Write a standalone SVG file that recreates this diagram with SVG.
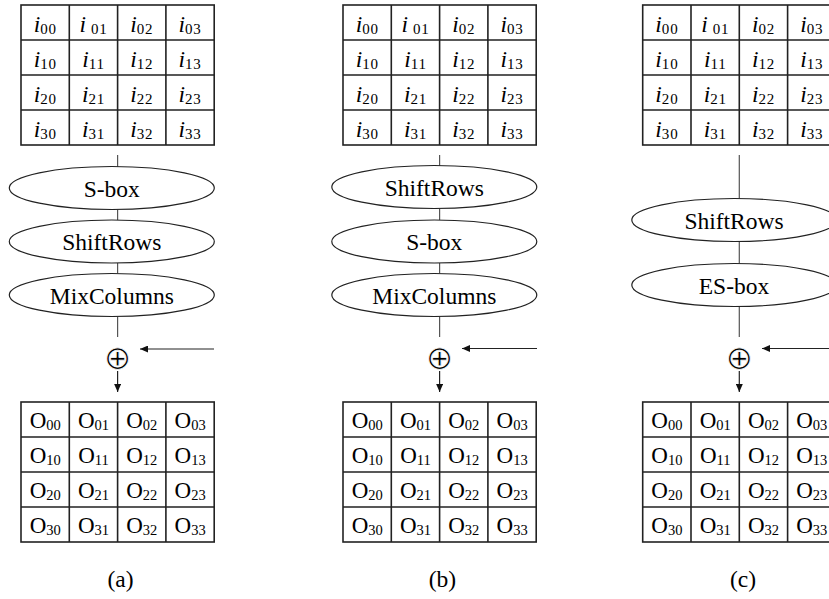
<svg xmlns="http://www.w3.org/2000/svg" width="829" height="599" viewBox="0 0 829 599">
<style>
.gr{fill:#fff;stroke:#222;stroke-width:1.6}
.gl{stroke:#222;stroke-width:1.6}
.e{fill:#fff;stroke:#222;stroke-width:1.2}
.ln{stroke:#555;stroke-width:1.2;fill:none}
.ar{stroke:#222;stroke-width:1.2;fill:none}
text{font-family:"Liberation Serif","Times New Roman",serif;fill:#000;text-anchor:middle}
.iv{font-style:italic;font-size:23.5px}
.ov{font-size:23px}
.si{font-size:15px;letter-spacing:0.8px}
.so{font-size:14.5px}
.et{font-size:23.5px}
.lb{font-size:23.5px}
.x{font-family:"DejaVu Sans",sans-serif;font-size:33px;fill:#000;stroke:#fff;stroke-width:0.8px;paint-order:fill}
</style>
<defs>
<marker id="ah" markerUnits="userSpaceOnUse" markerWidth="8" markerHeight="7" refX="8" refY="3.5" orient="auto"><path d="M0,0 L8,3.5 L0,7 z" fill="#111"/></marker>
</defs>
<g id="connectors">
<line class="ln" x1="117.6" y1="155" x2="117.6" y2="167"/>
<line class="ln" x1="117.6" y1="209.5" x2="117.6" y2="220"/>
<line class="ln" x1="117.6" y1="263" x2="117.6" y2="273.5"/>
<line class="ln" x1="117.6" y1="316.5" x2="117.6" y2="337"/>
<line class="ar" x1="214" y1="349" x2="140" y2="349" marker-end="url(#ah)"/>
<line class="ar" x1="117.6" y1="371" x2="117.6" y2="392" marker-end="url(#ah)"/>
<line class="ln" x1="439.6" y1="155" x2="439.6" y2="166"/>
<line class="ln" x1="439.6" y1="208.5" x2="439.6" y2="220"/>
<line class="ln" x1="439.6" y1="263" x2="439.6" y2="273.5"/>
<line class="ln" x1="439.6" y1="316.5" x2="439.6" y2="337"/>
<line class="ar" x1="537" y1="348.5" x2="462" y2="348.5" marker-end="url(#ah)"/>
<line class="ar" x1="439.6" y1="371" x2="439.6" y2="392" marker-end="url(#ah)"/>
<line class="ln" x1="739.3" y1="155" x2="739.3" y2="198.5"/>
<line class="ln" x1="739.3" y1="241.5" x2="739.3" y2="263.5"/>
<line class="ln" x1="739.3" y1="306.5" x2="739.3" y2="337"/>
<line class="ar" x1="830" y1="348.5" x2="762" y2="348.5" marker-end="url(#ah)"/>
<line class="ar" x1="739.3" y1="371" x2="739.3" y2="392" marker-end="url(#ah)"/>
</g>
<g id="a-input">
<rect class="gr" x="21" y="5" width="193.2" height="140"/>
<path class="gl" d="M69.3,5V145M117.6,5V145M165.9,5V145M21,40H214.2M21,75H214.2M21,110H214.2"/>
<text x="45.2" y="31.5"><tspan class="iv">i</tspan><tspan class="si" dy="2">00</tspan></text>
<text x="93.5" y="31.5"><tspan class="iv">i</tspan><tspan class="si" dx="5" dy="2">01</tspan></text>
<text x="141.8" y="31.5"><tspan class="iv">i</tspan><tspan class="si" dy="2">02</tspan></text>
<text x="190.1" y="31.5"><tspan class="iv">i</tspan><tspan class="si" dy="2">03</tspan></text>
<text x="45.2" y="66.5"><tspan class="iv">i</tspan><tspan class="si" dy="2">10</tspan></text>
<text x="93.5" y="66.5"><tspan class="iv">i</tspan><tspan class="si" dy="2">11</tspan></text>
<text x="141.8" y="66.5"><tspan class="iv">i</tspan><tspan class="si" dy="2">12</tspan></text>
<text x="190.1" y="66.5"><tspan class="iv">i</tspan><tspan class="si" dy="2">13</tspan></text>
<text x="45.2" y="101.5"><tspan class="iv">i</tspan><tspan class="si" dy="2">20</tspan></text>
<text x="93.5" y="101.5"><tspan class="iv">i</tspan><tspan class="si" dy="2">21</tspan></text>
<text x="141.8" y="101.5"><tspan class="iv">i</tspan><tspan class="si" dy="2">22</tspan></text>
<text x="190.1" y="101.5"><tspan class="iv">i</tspan><tspan class="si" dy="2">23</tspan></text>
<text x="45.2" y="136.5"><tspan class="iv">i</tspan><tspan class="si" dy="2">30</tspan></text>
<text x="93.5" y="136.5"><tspan class="iv">i</tspan><tspan class="si" dy="2">31</tspan></text>
<text x="141.8" y="136.5"><tspan class="iv">i</tspan><tspan class="si" dy="2">32</tspan></text>
<text x="190.1" y="136.5"><tspan class="iv">i</tspan><tspan class="si" dy="2">33</tspan></text>
</g>
<g id="a-sbox"><ellipse class="e" cx="111.8" cy="188" rx="102.5" ry="21.5"/><text class="et" x="111.8" y="196.5">S-box</text></g>
<g id="a-shiftrows"><ellipse class="e" cx="111.8" cy="241.5" rx="102.5" ry="21.5"/><text class="et" x="111.8" y="250">ShiftRows</text></g>
<g id="a-mixcolumns"><ellipse class="e" cx="111.8" cy="295" rx="102.5" ry="21.5"/><text class="et" x="111.8" y="303.5">MixColumns</text></g>
<g id="a-xor"><text class="x" x="117.6" y="368.5">⊕</text></g>
<g id="a-output">
<rect class="gr" x="21" y="402" width="193.2" height="140"/>
<path class="gl" d="M69.3,402V542M117.6,402V542M165.9,402V542M21,437H214.2M21,472H214.2M21,507H214.2"/>
<text x="45.2" y="427.5"><tspan class="ov">O</tspan><tspan class="so" dy="2">00</tspan></text>
<text x="93.5" y="427.5"><tspan class="ov">O</tspan><tspan class="so" dy="2">01</tspan></text>
<text x="141.8" y="427.5"><tspan class="ov">O</tspan><tspan class="so" dy="2">02</tspan></text>
<text x="190.1" y="427.5"><tspan class="ov">O</tspan><tspan class="so" dy="2">03</tspan></text>
<text x="45.2" y="462.5"><tspan class="ov">O</tspan><tspan class="so" dy="2">10</tspan></text>
<text x="93.5" y="462.5"><tspan class="ov">O</tspan><tspan class="so" dy="2">11</tspan></text>
<text x="141.8" y="462.5"><tspan class="ov">O</tspan><tspan class="so" dy="2">12</tspan></text>
<text x="190.1" y="462.5"><tspan class="ov">O</tspan><tspan class="so" dy="2">13</tspan></text>
<text x="45.2" y="497.5"><tspan class="ov">O</tspan><tspan class="so" dy="2">20</tspan></text>
<text x="93.5" y="497.5"><tspan class="ov">O</tspan><tspan class="so" dy="2">21</tspan></text>
<text x="141.8" y="497.5"><tspan class="ov">O</tspan><tspan class="so" dy="2">22</tspan></text>
<text x="190.1" y="497.5"><tspan class="ov">O</tspan><tspan class="so" dy="2">23</tspan></text>
<text x="45.2" y="532.5"><tspan class="ov">O</tspan><tspan class="so" dy="2">30</tspan></text>
<text x="93.5" y="532.5"><tspan class="ov">O</tspan><tspan class="so" dy="2">31</tspan></text>
<text x="141.8" y="532.5"><tspan class="ov">O</tspan><tspan class="so" dy="2">32</tspan></text>
<text x="190.1" y="532.5"><tspan class="ov">O</tspan><tspan class="so" dy="2">33</tspan></text>
</g>
<g id="a-label"><text class="lb" x="120.5" y="587">(a)</text></g>

<g id="b-input">
<rect class="gr" x="343" y="5" width="193.2" height="140"/>
<path class="gl" d="M391.3,5V145M439.6,5V145M487.9,5V145M343,40H536.2M343,75H536.2M343,110H536.2"/>
<text x="367.2" y="31.5"><tspan class="iv">i</tspan><tspan class="si" dy="2">00</tspan></text>
<text x="415.5" y="31.5"><tspan class="iv">i</tspan><tspan class="si" dx="5" dy="2">01</tspan></text>
<text x="463.8" y="31.5"><tspan class="iv">i</tspan><tspan class="si" dy="2">02</tspan></text>
<text x="512.1" y="31.5"><tspan class="iv">i</tspan><tspan class="si" dy="2">03</tspan></text>
<text x="367.2" y="66.5"><tspan class="iv">i</tspan><tspan class="si" dy="2">10</tspan></text>
<text x="415.5" y="66.5"><tspan class="iv">i</tspan><tspan class="si" dy="2">11</tspan></text>
<text x="463.8" y="66.5"><tspan class="iv">i</tspan><tspan class="si" dy="2">12</tspan></text>
<text x="512.1" y="66.5"><tspan class="iv">i</tspan><tspan class="si" dy="2">13</tspan></text>
<text x="367.2" y="101.5"><tspan class="iv">i</tspan><tspan class="si" dy="2">20</tspan></text>
<text x="415.5" y="101.5"><tspan class="iv">i</tspan><tspan class="si" dy="2">21</tspan></text>
<text x="463.8" y="101.5"><tspan class="iv">i</tspan><tspan class="si" dy="2">22</tspan></text>
<text x="512.1" y="101.5"><tspan class="iv">i</tspan><tspan class="si" dy="2">23</tspan></text>
<text x="367.2" y="136.5"><tspan class="iv">i</tspan><tspan class="si" dy="2">30</tspan></text>
<text x="415.5" y="136.5"><tspan class="iv">i</tspan><tspan class="si" dy="2">31</tspan></text>
<text x="463.8" y="136.5"><tspan class="iv">i</tspan><tspan class="si" dy="2">32</tspan></text>
<text x="512.1" y="136.5"><tspan class="iv">i</tspan><tspan class="si" dy="2">33</tspan></text>
</g>
<g id="b-shiftrows"><ellipse class="e" cx="434.3" cy="187" rx="102.5" ry="21.5"/><text class="et" x="434.3" y="195.5">ShiftRows</text></g>
<g id="b-sbox"><ellipse class="e" cx="434.3" cy="241.5" rx="102.5" ry="21.5"/><text class="et" x="434.3" y="250">S-box</text></g>
<g id="b-mixcolumns"><ellipse class="e" cx="434.3" cy="295" rx="102.5" ry="21.5"/><text class="et" x="434.3" y="303.5">MixColumns</text></g>
<g id="b-xor"><text class="x" x="439.6" y="368.5">⊕</text></g>
<g id="b-output">
<rect class="gr" x="343" y="402" width="193.2" height="140"/>
<path class="gl" d="M391.3,402V542M439.6,402V542M487.9,402V542M343,437H536.2M343,472H536.2M343,507H536.2"/>
<text x="367.2" y="427.5"><tspan class="ov">O</tspan><tspan class="so" dy="2">00</tspan></text>
<text x="415.5" y="427.5"><tspan class="ov">O</tspan><tspan class="so" dy="2">01</tspan></text>
<text x="463.8" y="427.5"><tspan class="ov">O</tspan><tspan class="so" dy="2">02</tspan></text>
<text x="512.1" y="427.5"><tspan class="ov">O</tspan><tspan class="so" dy="2">03</tspan></text>
<text x="367.2" y="462.5"><tspan class="ov">O</tspan><tspan class="so" dy="2">10</tspan></text>
<text x="415.5" y="462.5"><tspan class="ov">O</tspan><tspan class="so" dy="2">11</tspan></text>
<text x="463.8" y="462.5"><tspan class="ov">O</tspan><tspan class="so" dy="2">12</tspan></text>
<text x="512.1" y="462.5"><tspan class="ov">O</tspan><tspan class="so" dy="2">13</tspan></text>
<text x="367.2" y="497.5"><tspan class="ov">O</tspan><tspan class="so" dy="2">20</tspan></text>
<text x="415.5" y="497.5"><tspan class="ov">O</tspan><tspan class="so" dy="2">21</tspan></text>
<text x="463.8" y="497.5"><tspan class="ov">O</tspan><tspan class="so" dy="2">22</tspan></text>
<text x="512.1" y="497.5"><tspan class="ov">O</tspan><tspan class="so" dy="2">23</tspan></text>
<text x="367.2" y="532.5"><tspan class="ov">O</tspan><tspan class="so" dy="2">30</tspan></text>
<text x="415.5" y="532.5"><tspan class="ov">O</tspan><tspan class="so" dy="2">31</tspan></text>
<text x="463.8" y="532.5"><tspan class="ov">O</tspan><tspan class="so" dy="2">32</tspan></text>
<text x="512.1" y="532.5"><tspan class="ov">O</tspan><tspan class="so" dy="2">33</tspan></text>
</g>
<g id="b-label"><text class="lb" x="442.5" y="587">(b)</text></g>

<g id="c-input">
<rect class="gr" x="642.7" y="5" width="193.2" height="140"/>
<path class="gl" d="M691,5V145M739.3,5V145M787.6,5V145M642.7,40H835.9M642.7,75H835.9M642.7,110H835.9"/>
<text x="666.9" y="31.5"><tspan class="iv">i</tspan><tspan class="si" dy="2">00</tspan></text>
<text x="715.2" y="31.5"><tspan class="iv">i</tspan><tspan class="si" dx="5" dy="2">01</tspan></text>
<text x="763.5" y="31.5"><tspan class="iv">i</tspan><tspan class="si" dy="2">02</tspan></text>
<text x="811.8" y="31.5"><tspan class="iv">i</tspan><tspan class="si" dy="2">03</tspan></text>
<text x="666.9" y="66.5"><tspan class="iv">i</tspan><tspan class="si" dy="2">10</tspan></text>
<text x="715.2" y="66.5"><tspan class="iv">i</tspan><tspan class="si" dy="2">11</tspan></text>
<text x="763.5" y="66.5"><tspan class="iv">i</tspan><tspan class="si" dy="2">12</tspan></text>
<text x="811.8" y="66.5"><tspan class="iv">i</tspan><tspan class="si" dy="2">13</tspan></text>
<text x="666.9" y="101.5"><tspan class="iv">i</tspan><tspan class="si" dy="2">20</tspan></text>
<text x="715.2" y="101.5"><tspan class="iv">i</tspan><tspan class="si" dy="2">21</tspan></text>
<text x="763.5" y="101.5"><tspan class="iv">i</tspan><tspan class="si" dy="2">22</tspan></text>
<text x="811.8" y="101.5"><tspan class="iv">i</tspan><tspan class="si" dy="2">23</tspan></text>
<text x="666.9" y="136.5"><tspan class="iv">i</tspan><tspan class="si" dy="2">30</tspan></text>
<text x="715.2" y="136.5"><tspan class="iv">i</tspan><tspan class="si" dy="2">31</tspan></text>
<text x="763.5" y="136.5"><tspan class="iv">i</tspan><tspan class="si" dy="2">32</tspan></text>
<text x="811.8" y="136.5"><tspan class="iv">i</tspan><tspan class="si" dy="2">33</tspan></text>
</g>
<g id="c-shiftrows"><ellipse class="e" cx="734.3" cy="220" rx="102.5" ry="21.5"/><text class="et" x="734" y="228.5">ShiftRows</text></g>
<g id="c-esbox"><ellipse class="e" cx="734.3" cy="285" rx="102.5" ry="21.5"/><text class="et" x="734" y="293.5">ES-box</text></g>
<g id="c-xor"><text class="x" x="739.3" y="368.5">⊕</text></g>
<g id="c-output">
<rect class="gr" x="642.7" y="402" width="193.2" height="140"/>
<path class="gl" d="M691,402V542M739.3,402V542M787.6,402V542M642.7,437H835.9M642.7,472H835.9M642.7,507H835.9"/>
<text x="666.9" y="427.5"><tspan class="ov">O</tspan><tspan class="so" dy="2">00</tspan></text>
<text x="715.2" y="427.5"><tspan class="ov">O</tspan><tspan class="so" dy="2">01</tspan></text>
<text x="763.5" y="427.5"><tspan class="ov">O</tspan><tspan class="so" dy="2">02</tspan></text>
<text x="811.8" y="427.5"><tspan class="ov">O</tspan><tspan class="so" dy="2">03</tspan></text>
<text x="666.9" y="462.5"><tspan class="ov">O</tspan><tspan class="so" dy="2">10</tspan></text>
<text x="715.2" y="462.5"><tspan class="ov">O</tspan><tspan class="so" dy="2">11</tspan></text>
<text x="763.5" y="462.5"><tspan class="ov">O</tspan><tspan class="so" dy="2">12</tspan></text>
<text x="811.8" y="462.5"><tspan class="ov">O</tspan><tspan class="so" dy="2">13</tspan></text>
<text x="666.9" y="497.5"><tspan class="ov">O</tspan><tspan class="so" dy="2">20</tspan></text>
<text x="715.2" y="497.5"><tspan class="ov">O</tspan><tspan class="so" dy="2">21</tspan></text>
<text x="763.5" y="497.5"><tspan class="ov">O</tspan><tspan class="so" dy="2">22</tspan></text>
<text x="811.8" y="497.5"><tspan class="ov">O</tspan><tspan class="so" dy="2">23</tspan></text>
<text x="666.9" y="532.5"><tspan class="ov">O</tspan><tspan class="so" dy="2">30</tspan></text>
<text x="715.2" y="532.5"><tspan class="ov">O</tspan><tspan class="so" dy="2">31</tspan></text>
<text x="763.5" y="532.5"><tspan class="ov">O</tspan><tspan class="so" dy="2">32</tspan></text>
<text x="811.8" y="532.5"><tspan class="ov">O</tspan><tspan class="so" dy="2">33</tspan></text>
</g>
<g id="c-label"><text class="lb" x="743" y="587">(c)</text></g>
</svg>
